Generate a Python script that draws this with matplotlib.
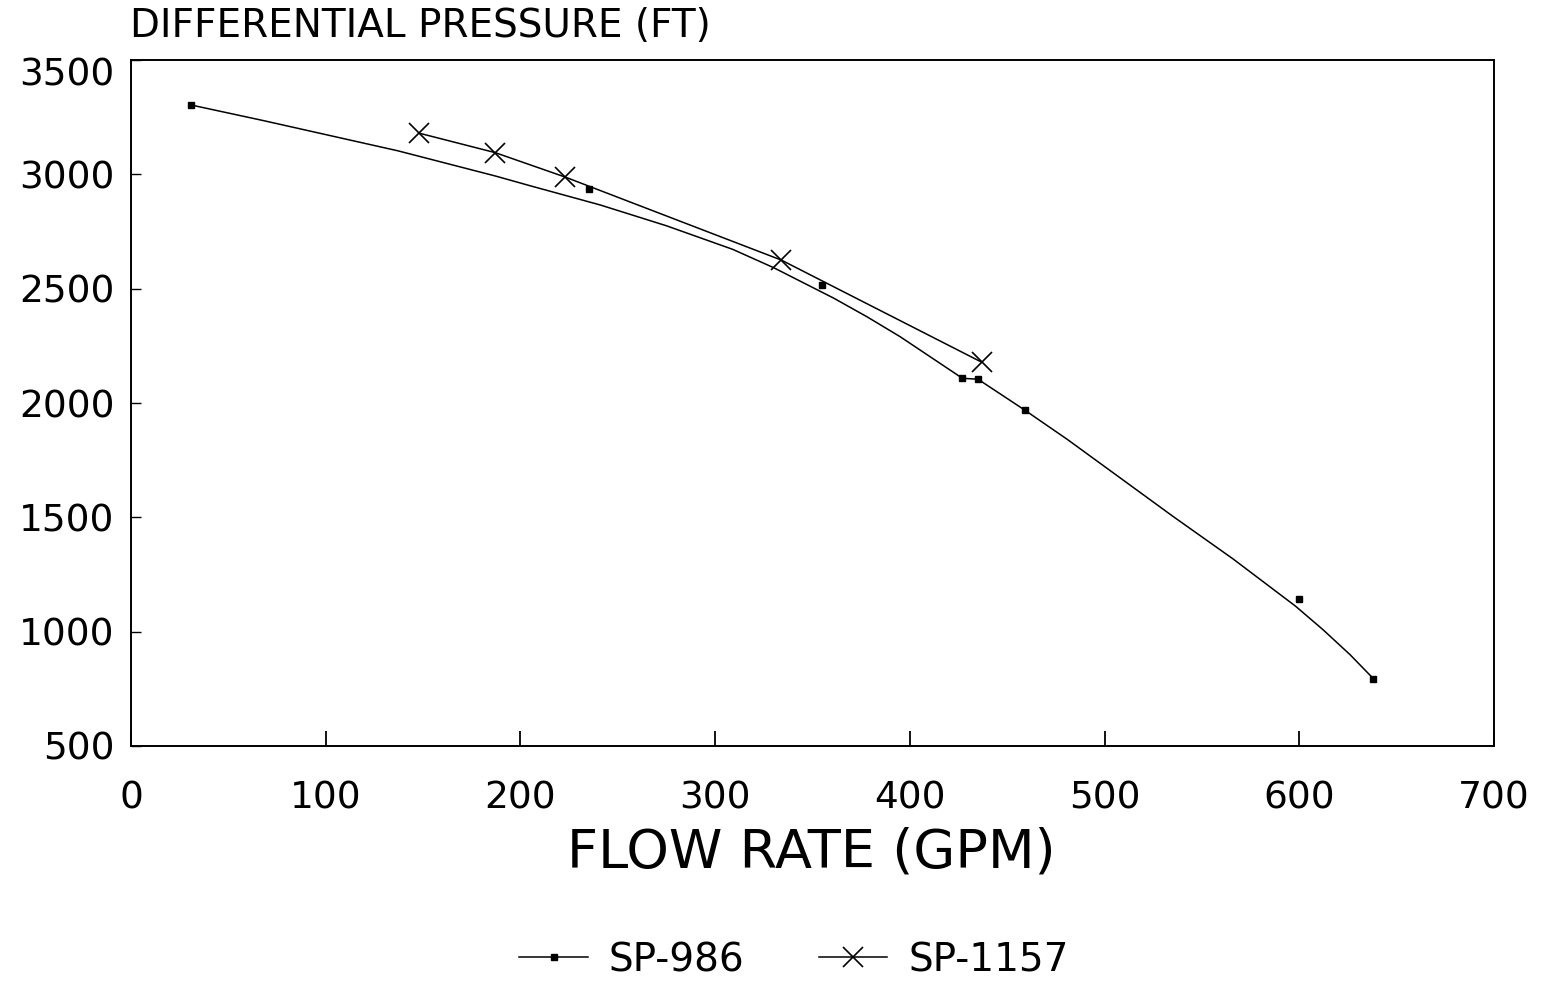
import matplotlib
matplotlib.use("Agg")
import matplotlib.pyplot as plt
from matplotlib.lines import Line2D
import matplotlib.transforms as mtransforms

# ---- data ----
sp986_x = [31, 235, 355, 427, 435, 459, 600, 638]
sp986_y = [3305, 2935, 2515, 2110, 2105, 1970, 1145, 795]

# traced smooth fit curve drawn for SP-986
sp986_curve_x = [31, 68, 137, 187, 205, 241, 275, 309, 330, 361, 378, 395,
                 427, 435, 459, 481, 506, 535, 566, 598, 612, 626, 638]
sp986_curve_y = [3303, 3235, 3103, 2993, 2950, 2866, 2775, 2672, 2592, 2458, 2377, 2290,
                 2108, 2104, 1969, 1840, 1685, 1505, 1318, 1112, 1010, 900, 795]

sp1157_x = [148, 187, 223, 334, 437]
sp1157_y = [3180, 3095, 2988, 2625, 2178]

x_ticks = [0, 100, 200, 300, 400, 500, 600, 700]
y_ticks = [500, 1000, 1500, 2000, 2500, 3000, 3500]

title_text = "DIFFERENTIAL PRESSURE (FT)"
xlabel_text = "FLOW RATE (GPM)"
series_names = ["SP-986", "SP-1157"]

plt.rcParams['font.family'] = ['DejaVu Sans']

fig = plt.figure(figsize=(15.44, 9.82), dpi=100)
ax = fig.add_axes([131/1544, 1-746/982, (1494-131)/1544, (746-60)/982])

lw = 1.1
ax.plot(sp986_curve_x, sp986_curve_y, color='black', lw=lw)
ax.plot(sp986_x, sp986_y, linestyle='none', marker='s', ms=5, color='black')
ax.plot(sp1157_x, sp1157_y, color='black', lw=lw, marker='x', ms=15, mew=1.2)

ax.set_xlim(0, 700)
ax.set_ylim(500, 3500)
ax.set_xticks(x_ticks)
ax.set_yticks(y_ticks)
ax.tick_params(axis='x', direction='in', length=11, width=1.3, pad=25, labelsize=27)
ax.tick_params(axis='y', direction='in', length=7, width=1.0, pad=12, labelsize=27)
for s in ax.spines.values():
    s.set_linewidth(1.4)

# the top y label sits slightly lower in the reference
for lab in ax.get_yticklabels():
    if lab.get_text() == '3500':
        lab.set_transform(lab.get_transform() +
                          mtransforms.ScaledTranslation(0, -12/100, fig.dpi_scale_trans))

fig.text(130/1544, 1-37/982, title_text, fontsize=28,
         ha='left', va='baseline')
fig.text(811/1544, 1-868/982, xlabel_text, fontsize=39, ha='center', va='baseline')

handles = [Line2D([], [], color='black', lw=lw, marker='s', ms=5),
           Line2D([], [], color='black', lw=lw, marker='x', ms=15, mew=1.2)]
fig.legend(handles, series_names, loc='center', bbox_to_anchor=(794/1544, 1-960/982),
           ncol=2, frameon=False, fontsize=28, handlelength=1.75, handletextpad=0.55,
           columnspacing=1.9, borderpad=0, markerscale=1.0)

fig.savefig("out.png", dpi=100)
